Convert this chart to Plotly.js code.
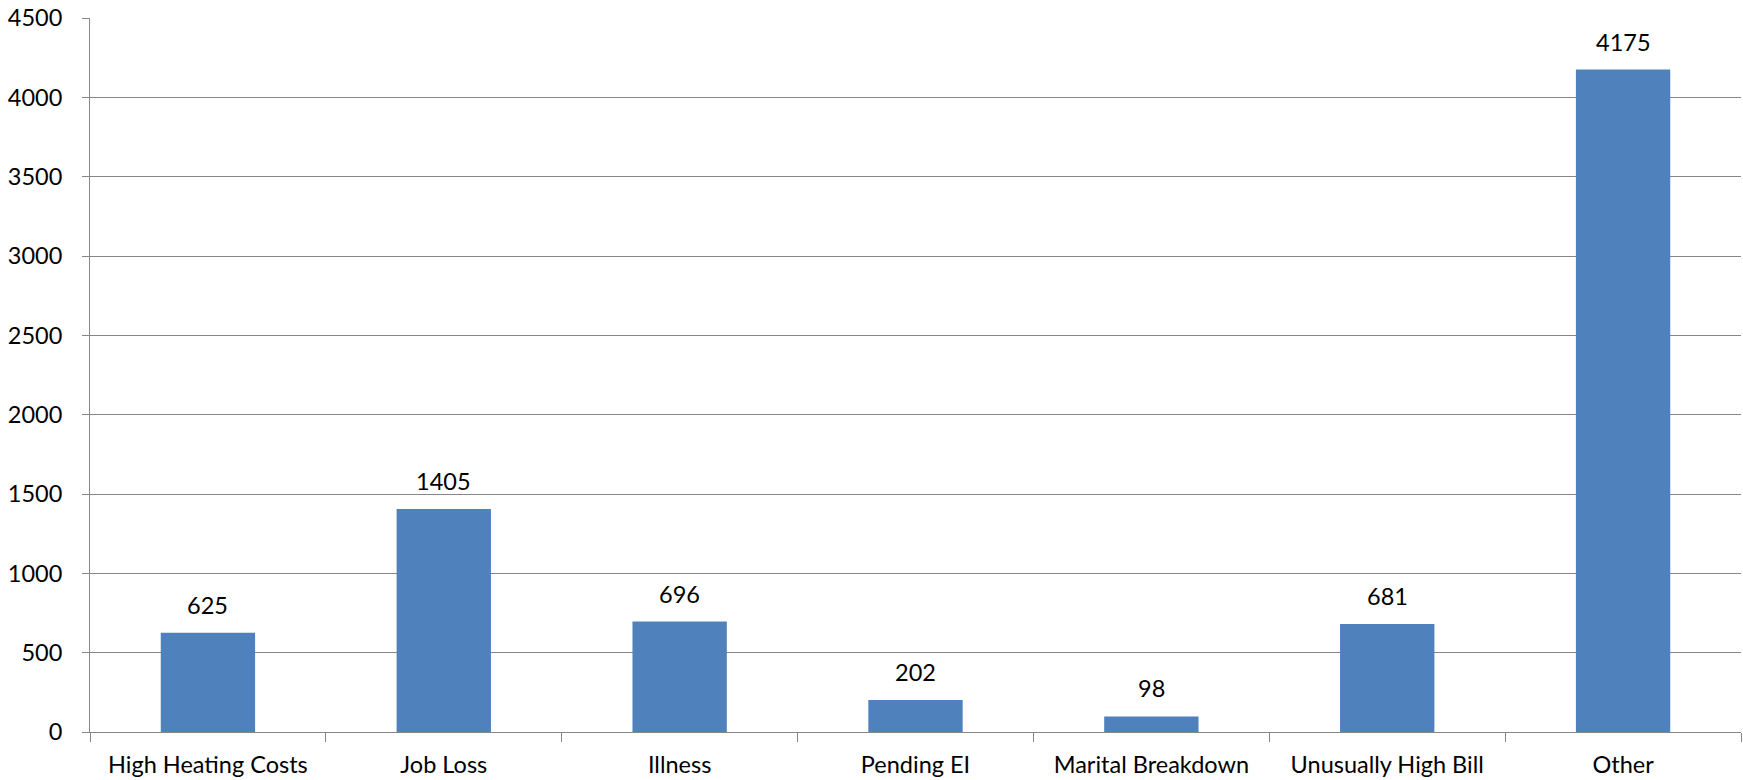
<!DOCTYPE html>
<html><head><meta charset="utf-8">
<script src="https://cdn.plot.ly/plotly-3.0.1.min.js"></script>
<style>html,body{margin:0;padding:0;background:#fff;}#chart{width:1743px;height:780px;}</style>
</head><body><div id="chart"></div>
<script>
const categories = ["High Heating Costs","Job Loss","Illness","Pending EI","Marital Breakdown","Unusually High Bill","Other"];
const values = [625,1405,696,202,98,681,4175];
const yTickVals = [0,500,1000,1500,2000,2500,3000,3500,4000,4500];

const FONT = "Lato, 'Open Sans', sans-serif";
const FS = 23.5;
const trace = {
  type: "bar", x: categories, y: values,
  marker: {color: "#4F81BD"},
  hoverinfo: "x+y"
};
const annotations = categories.map((c,i)=>({
  x: c, y: values[i], xref: "x", yref: "y",
  text: String(values[i]), showarrow: false,
  yanchor: "middle", yshift: 28,
  font: {family: FONT, size: FS, color: "#000"}
}));
const layout = {
  width: 1743, height: 780,
  margin: {l: 90, r: 2, t: 18, b: 48},
  paper_bgcolor: "#fff", plot_bgcolor: "#fff",
  bargap: 0.6, showlegend: false,
  font: {family: FONT, size: FS, color: "#000"},
  xaxis: {
    type: "category", tickson: "boundaries", ticks: "outside", ticklen: 9,
    tickcolor: "#868686", showline: true, linecolor: "#868686", linewidth: 1,
    showgrid: false, tickfont: {family: FONT, size: FS, color: "#000"},
    ticklabelstandoff: 12
  },
  yaxis: {
    range: [0,4500], tickvals: yTickVals, ticks: "outside", ticklen: 7,
    tickcolor: "#868686", showline: true, linecolor: "#868686", linewidth: 1,
    showgrid: true, gridcolor: "#868686", gridwidth: 1, zeroline: false,
    tickfont: {family: FONT, size: FS, color: "#000"},
    ticklabelstandoff: 15
  },
  annotations: annotations
};
Plotly.newPlot("chart", [trace], layout, {displayModeBar: false, staticPlot: true});
</script></body></html>
